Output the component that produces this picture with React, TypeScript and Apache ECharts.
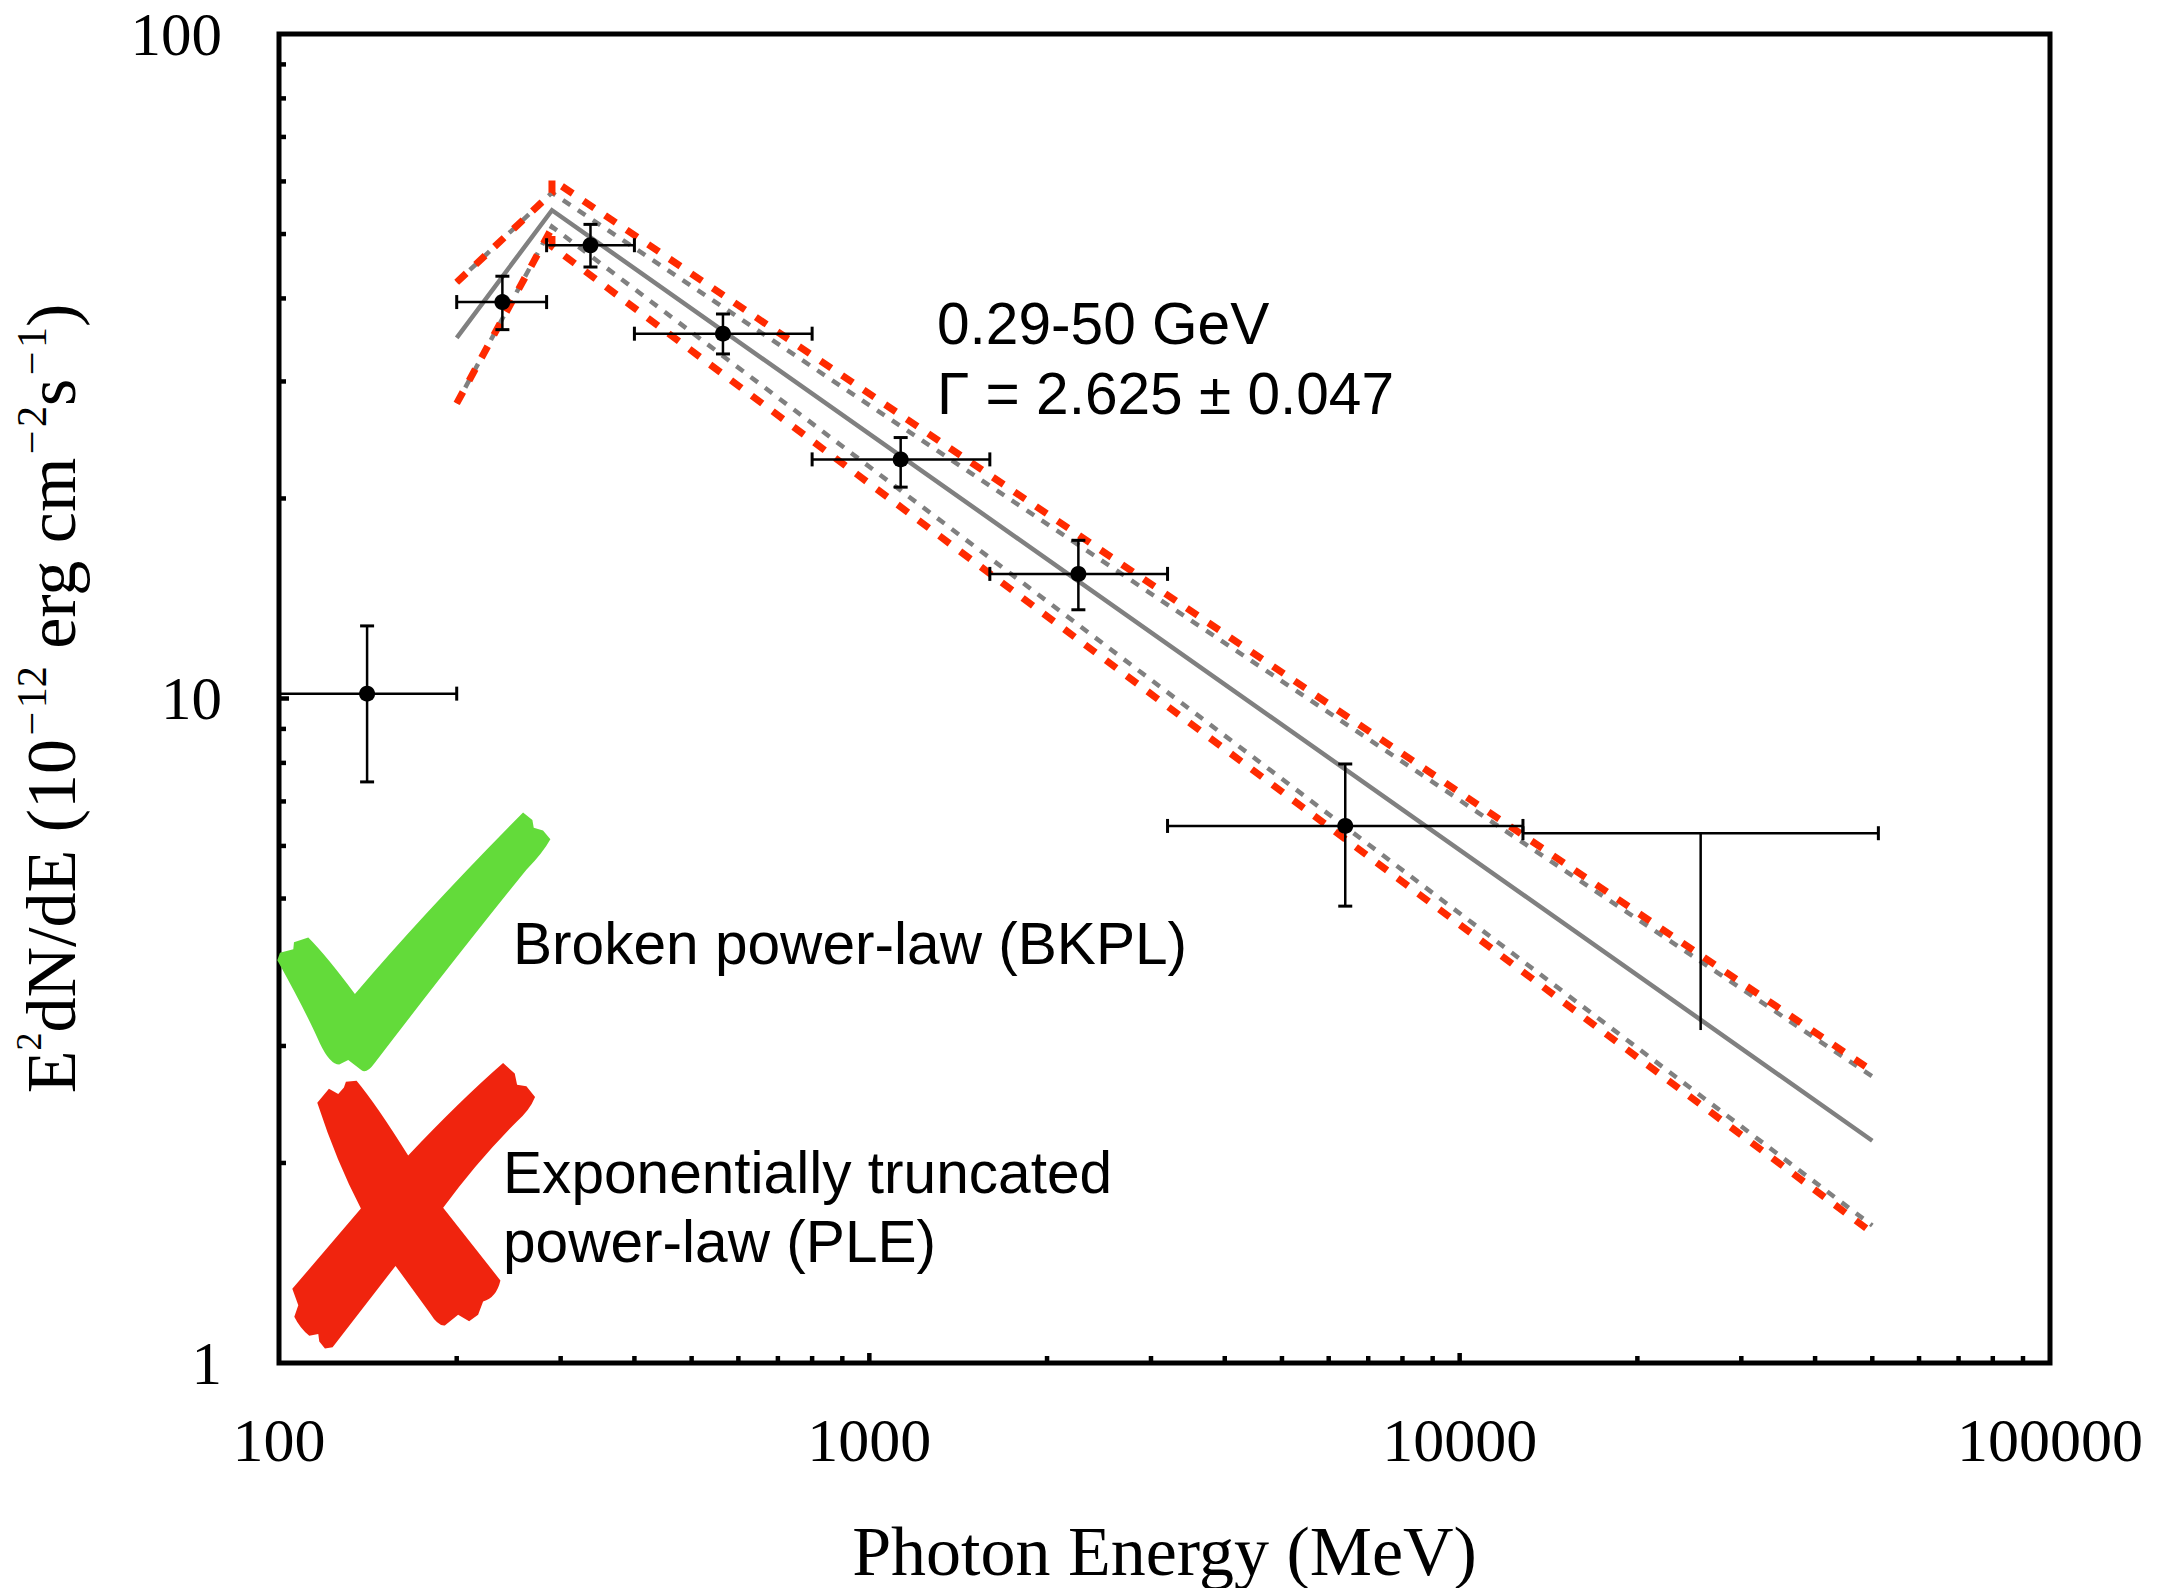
import React, { useEffect, useRef } from "react";
import * as echarts from "echarts";

const xBounds = [100, 100000];
const yBounds = [1, 100];

const pointEnergy = [141, 239, 337, 565, 1130, 2260, 6400];
const pointFlux = [10.17, 39.5, 48.1, 35.4, 22.9, 15.4, 6.43];
const energyLow = [100, 200, 284, 400, 800, 1600, 3200];
const energyHigh = [200, 284, 400, 800, 1600, 3200, 12800];
const fluxLow = [7.49, 35.9, 44.6, 33.0, 20.8, 13.6, 4.87];
const fluxHigh = [12.86, 43.2, 51.7, 37.9, 24.7, 17.3, 7.97];

const limitEnergy = 25600;
const limitFlux = 6.27;
const limitEnergyLow = 12800;
const limitEnergyHigh = 51200;
const limitFluxLow = 3.17;

const bestFit: [number, number][] = [[200, 34.9], [290, 54.3], [50000, 2.16]];
const grayUpper: [number, number][] = [[200, 42.3], [290, 57.7], [50000, 2.7]];
const grayLower: [number, number][] = [[200, 27.8], [290, 51.3], [50000, 1.61]];
const redUpper: [number, number][] = [[200, 42.3], [290, 57.7], [290, 60.4], [50000, 2.75]];
const redLower: [number, number][] = [[200, 27.8], [290, 51.1], [290, 47.9], [50000, 1.57]];

const xMajorTicks = [1000, 10000];
const xMinorTicks = [200, 300, 400, 500, 600, 700, 800, 900, 2000, 3000, 4000, 5000, 6000, 7000, 8000, 9000, 20000, 30000, 40000, 50000, 60000, 70000, 80000, 90000];
const yMajorTicks = [10];
const yMinorTicks = [2, 3, 4, 5, 6, 7, 8, 9, 20, 30, 40, 50, 60, 70, 80, 90];

const noteLines = ["0.29-50 GeV", "Γ = 2.625 ± 0.047"];
const goodLabel = "Broken power-law (BKPL)";
const badLabel = ["Exponentially truncated", "power-law (PLE)"];

const CHECK_PATH = "M52 472 L60 452 L100 443 L102 425 L145 412 Q200 460 285 560 Q500 340 790 85 L818 105 L822 125 L850 132 L872 155 Q850 190 800 235 Q600 450 345 740 Q320 770 305 760 L265 733 L238 745 Q210 745 180 690 Q140 610 52 472 Z";
const CROSS_PATH = "M172 845 L207 808 L235 822 L252 805 L258 790 L290 787 Q350 850 445 983 Q600 840 730 741 L765 768 L772 798 L800 802 L826 830 Q810 865 770 895 Q650 1000 550 1120 L722 1310 Q710 1355 670 1365 L655 1400 L628 1417 L595 1400 L555 1428 Q535 1430 510 1395 L407 1272 L218 1485 L195 1488 L178 1470 L175 1450 L148 1455 Q120 1435 103 1405 L115 1375 L97 1332 L303 1122 Q230 1000 172 845 Z";
echarts.graphic.registerShape("checkMark", echarts.graphic.extendPath(CHECK_PATH, {}));
echarts.graphic.registerShape("crossMark", echarts.graphic.extendPath(CROSS_PATH, {}));

const SERIF = "'Liberation Serif', serif";
const SANS = "'Liberation Sans', sans-serif";
const INK = "#000";

const seg = (x1: number, y1: number, x2: number, y2: number, w: number) => ({
  type: "line",
  shape: { x1, y1, x2, y2 },
  style: { stroke: INK, lineWidth: w },
});

const dashLine = (data: [number, number][], color: string, width: number, z: number, dash: number[]) => ({
  type: "line",
  data,
  symbol: "none",
  silent: true,
  z,
  lineStyle: { color, width, type: dash, cap: "butt", join: "miter" },
});

const tickSeries = (values: number[], horizontal: boolean, len: number) => ({
  type: "custom",
  silent: true,
  z: 4,
  encode: horizontal ? { x: 0, y: 1 } : { x: 1, y: 0 },
  data: values.map((v) => (horizontal ? [v, yBounds[0]] : [v, xBounds[0]])),
  renderItem: (_: any, api: any) => {
    const v = api.value(0);
    if (horizontal) {
      const p = api.coord([v, yBounds[0]]);
      return seg(p[0], p[1], p[0], p[1] - len, 4.5);
    }
    const p = api.coord([xBounds[0], v]);
    return seg(p[0], p[1], p[0] + len, p[1], 4.5);
  },
});

const annotation = (text: string, x: number, y: number) => ({
  type: "text",
  x,
  y,
  z: 21,
  style: { text, fill: INK, font: `58.6px ${SANS}`, textAlign: "left", textVerticalAlign: "middle" },
});

export default function App() {
  const ref = useRef<HTMLDivElement>(null);
  useEffect(() => {
    document.body.style.margin = "0";
    const chart = echarts.init(ref.current!, undefined, { renderer: "svg" });
    const sup = { fontFamily: SERIF, fontSize: 42, color: INK, verticalAlign: "top" as const, lineHeight: 80 };
    const supSmall = { ...sup, fontSize: 36 };
    chart.setOption({
      animation: false,
      backgroundColor: "#fff",
      grid: { left: 279, right: 112, top: 34, bottom: 225, outerBoundsMode: "none", show: true, borderColor: INK, borderWidth: 5, backgroundColor: "transparent" },
      xAxis: {
        type: "log",
        logBase: 10,
        min: xBounds[0],
        max: xBounds[1],
        name: "Photon Energy (MeV)",
        nameLocation: "middle",
        nameGap: 153,
        nameTextStyle: { fontFamily: SERIF, fontSize: 70, color: INK },
        axisLine: { show: false },
        axisTick: { show: false },
        splitLine: { show: false },
        minorTick: { show: false },
        axisLabel: { margin: 46, fontFamily: SERIF, fontSize: 62, color: INK, formatter: (v: number) => String(Math.round(v)), showMinLabel: true, showMaxLabel: true, hideOverlap: false },
      },
      yAxis: {
        type: "log",
        logBase: 10,
        min: yBounds[0],
        max: yBounds[1],
        name: "E{t|2}dN/dE (10{s|\u200A−\u200A12} erg cm{s|\u200A−\u200A2}s{s|\u200A−\u200A1})",
        nameLocation: "middle",
        nameRotate: 90,
        nameGap: 188,
        nameTextStyle: { fontFamily: SERIF, fontSize: 70, color: INK, rich: { s: sup, t: supSmall } },
        axisLine: { show: false },
        axisTick: { show: false },
        splitLine: { show: false },
        axisLabel: { margin: 57, fontFamily: SERIF, fontSize: 61, color: INK, formatter: (v: number) => String(Math.round(v)), showMinLabel: true, showMaxLabel: true, hideOverlap: false },
      },
      series: [
        tickSeries(xMinorTicks, true, 7),
        tickSeries(xMajorTicks, true, 10),
        tickSeries(yMinorTicks, false, 7),
        tickSeries(yMajorTicks, false, 10),
        { type: "line", data: bestFit, symbol: "none", silent: true, z: 5, lineStyle: { color: "#808080", width: 4.5, join: "miter" } },
        dashLine(grayUpper, "#808080", 4.5, 5, [9, 9]),
        dashLine(grayLower, "#808080", 4.5, 5, [9, 9]),
        dashLine(redUpper, "#ff2a00", 7, 6, [13, 13]),
        dashLine(redLower, "#ff2a00", 7, 6, [13, 13]),
        {
          type: "custom",
          silent: true,
          z: 8,
          encode: { x: 0, y: 1 },
          data: pointEnergy.map((e, i) => [e, pointFlux[i], energyLow[i], energyHigh[i], fluxLow[i], fluxHigh[i]]),
          renderItem: (_: any, api: any) => {
            const c = api.coord([api.value(0), api.value(1)]);
            const xl = api.coord([api.value(2), api.value(1)])[0];
            const xh = api.coord([api.value(3), api.value(1)])[0];
            const yl = api.coord([api.value(0), api.value(4)])[1];
            const yh = api.coord([api.value(0), api.value(5)])[1];
            return {
              type: "group",
              children: [
                seg(xl, c[1], xh, c[1], 2.5),
                seg(c[0], yl, c[0], yh, 2.5),
                seg(xl, c[1] - 7, xl, c[1] + 7, 3),
                seg(xh, c[1] - 7, xh, c[1] + 7, 3),
                seg(c[0] - 7, yl, c[0] + 7, yl, 3),
                seg(c[0] - 7, yh, c[0] + 7, yh, 3),
                { type: "circle", shape: { cx: c[0], cy: c[1], r: 8 }, style: { fill: INK } },
              ],
            };
          },
        },
        {
          type: "custom",
          silent: true,
          z: 8,
          encode: { x: 0, y: 1 },
          data: [[limitEnergy, limitFlux, limitEnergyLow, limitEnergyHigh, limitFluxLow]],
          renderItem: (_: any, api: any) => {
            const c = api.coord([api.value(0), api.value(1)]);
            const xl = api.coord([api.value(2), api.value(1)])[0];
            const xh = api.coord([api.value(3), api.value(1)])[0];
            const yl = api.coord([api.value(0), api.value(4)])[1];
            return {
              type: "group",
              children: [
                seg(xl, c[1], xh, c[1], 2.5),
                seg(c[0], c[1], c[0], yl, 2.5),
                seg(xl, c[1] - 7, xl, c[1] + 7, 3),
                seg(xh, c[1] - 7, xh, c[1] + 7, 3),
              ],
            };
          },
        },
      ],
      graphic: [
        { type: "checkMark", x: 260, y: 780, scaleX: 1 / 3, scaleY: 1 / 2.62, z: 20, style: { fill: "#63db3a" } },
        { type: "crossMark", x: 260, y: 780, scaleX: 1 / 3, scaleY: 1 / 2.62, z: 20, style: { fill: "#f0240e" } },
        annotation(noteLines[0], 937, 323),
        annotation(noteLines[1], 937, 393),
        annotation(goodLabel, 513, 943),
        annotation(badLabel[0], 503, 1172),
        annotation(badLabel[1], 503, 1241),
      ],
    });
    return () => chart.dispose();
  }, []);
  return <div ref={ref} style={{ position: "absolute", left: 0, top: 0, width: 2162, height: 1588, background: "#fff" }} />;
}
